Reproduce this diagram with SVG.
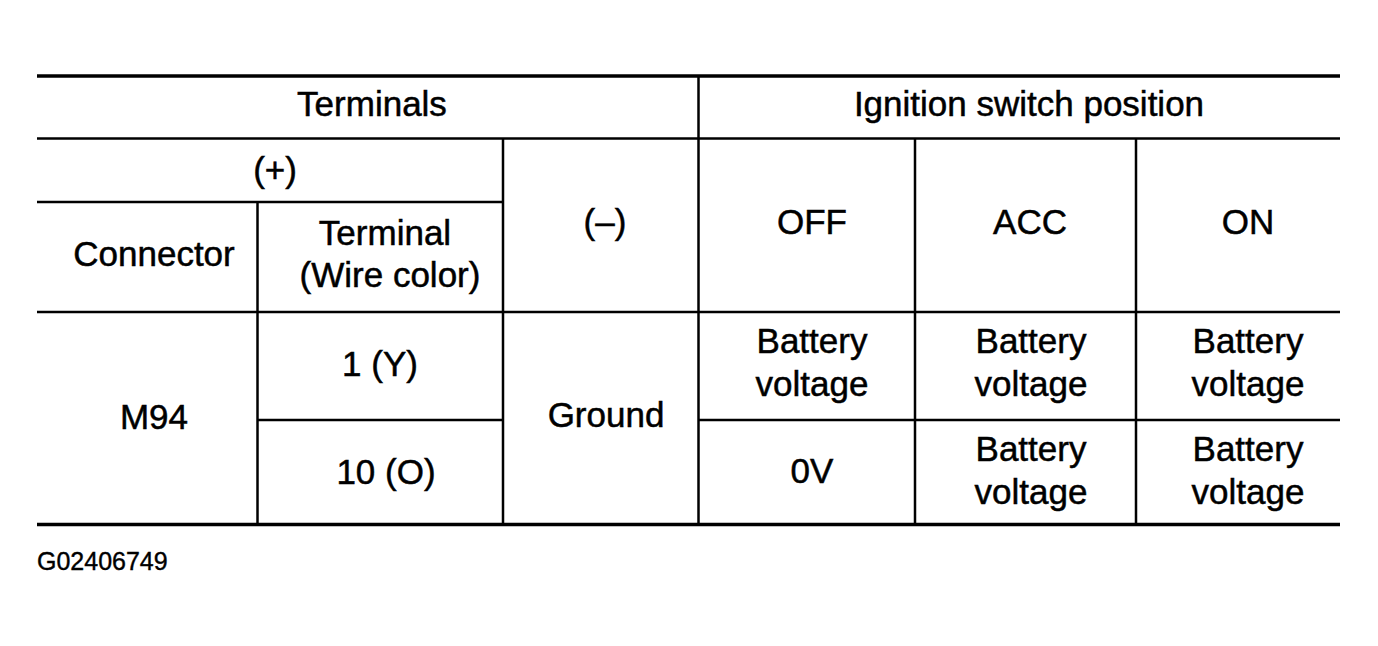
<svg xmlns="http://www.w3.org/2000/svg" width="1378" height="646" viewBox="0 0 1378 646">
<style>
.t{font-family:"Liberation Sans",Arial,sans-serif;font-size:35px;fill:#000;stroke:#000;stroke-width:0.5;text-anchor:middle}
.c{font-family:"Liberation Sans",Arial,sans-serif;font-size:25px;fill:#000;stroke:#000;stroke-width:0.4}
.l{stroke:#000;stroke-width:2.5;fill:none}
.h{stroke:#000;stroke-width:3.5;fill:none}
</style>
<rect width="1378" height="646" fill="#fff"/>
<g id="grid">
<line class="h" x1="37" y1="76" x2="1340" y2="76"/>
<line class="l" x1="37" y1="138.5" x2="1340" y2="138.5"/>
<line class="l" x1="37" y1="202" x2="503" y2="202"/>
<line class="l" x1="37" y1="312" x2="1340" y2="312"/>
<line class="l" x1="257" y1="420" x2="503" y2="420"/>
<line class="l" x1="698" y1="420" x2="1340" y2="420"/>
<line class="h" x1="37" y1="524.5" x2="1340" y2="524.5"/>
<line class="l" x1="257.5" y1="202" x2="257.5" y2="524"/>
<line class="l" x1="503" y1="138" x2="503" y2="524"/>
<line class="l" x1="698.5" y1="76" x2="698.5" y2="524"/>
<line class="l" x1="915" y1="138" x2="915" y2="524"/>
<line class="l" x1="1136" y1="138" x2="1136" y2="524"/>
</g>
<g id="header">
<text class="t" x="372" y="116">Terminals</text>
<text class="t" x="1029" y="116">Ignition switch position</text>
<text class="t" x="275" y="182">(+)</text>
<text class="t" x="154" y="266">Connector</text>
<text class="t" x="385" y="245">Terminal</text>
<text class="t" x="390" y="287">(Wire color)</text>
<text class="t" x="605" y="234">(–)</text>
<text class="t" x="812" y="234">OFF</text>
<text class="t" x="1030" y="234">ACC</text>
<text class="t" x="1248" y="234">ON</text>
</g>
<g id="rows">
<text class="t" x="154" y="429">M94</text>
<text class="t" x="380" y="376">1 (Y)</text>
<text class="t" x="386" y="484">10 (O)</text>
<text class="t" x="606" y="427">Ground</text>
<text class="t" x="812" y="353">Battery</text>
<text class="t" x="812" y="396">voltage</text>
<text class="t" x="1031" y="353">Battery</text>
<text class="t" x="1031" y="396">voltage</text>
<text class="t" x="1248" y="353">Battery</text>
<text class="t" x="1248" y="396">voltage</text>
<text class="t" x="812" y="483">0V</text>
<text class="t" x="1031" y="461">Battery</text>
<text class="t" x="1031" y="504">voltage</text>
<text class="t" x="1248" y="461">Battery</text>
<text class="t" x="1248" y="504">voltage</text>
</g>
<text class="c" x="37" y="570">G02406749</text>
</svg>
